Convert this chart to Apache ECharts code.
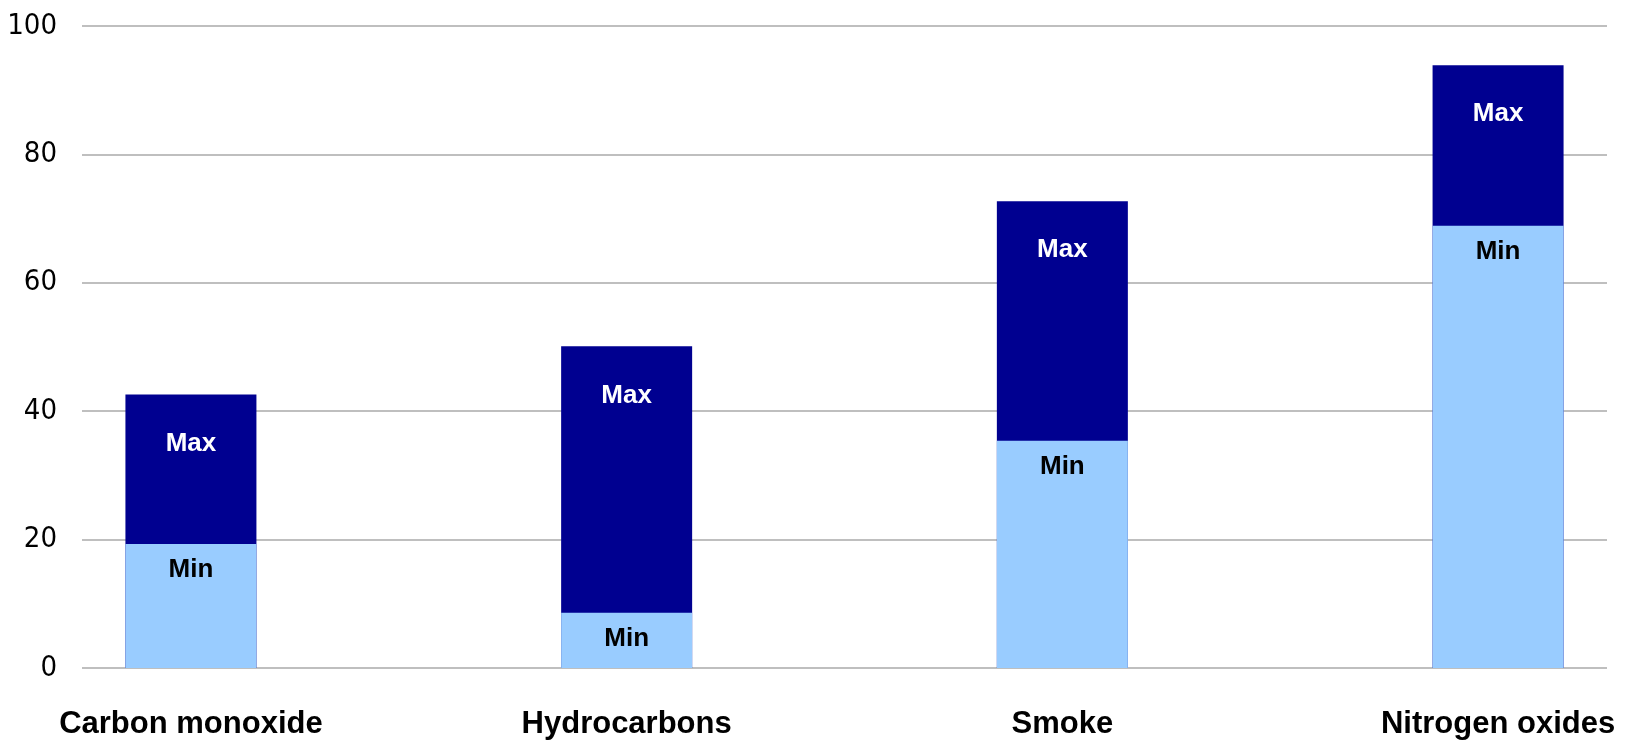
<!DOCTYPE html>
<html>
<head>
<meta charset="utf-8">
<script src="https://cdn.jsdelivr.net/npm/echarts@6/dist/echarts.min.js"></script>
<style>
html,body{margin:0;padding:0;background:#fff;}
#chart{width:1627px;height:742px;}
</style>
</head>
<body>
<div id="chart"></div>
<script>
const categories = ['Carbon monoxide', 'Hydrocarbons', 'Smoke', 'Nitrogen oxides'];
const minValues = [19.3, 8.6, 35.4, 68.9];
const maxValues = [42.6, 50.1, 72.7, 93.9];
const yTicks = [0, 20, 40, 60, 80, 100];

const chart = echarts.init(document.getElementById('chart'));
const minData = minValues.map((v, i) => [i, v]);
const maxData = maxValues.map((v, i) => [i, v]);

chart.setOption({
  animation: false,
  backgroundColor: '#ffffff',
  grid: { left: 82, right: 20, top: 26, bottom: 74, containLabel: false },
  xAxis: {
    type: 'value',
    min: -0.25,
    max: 3.25,
    axisLine: { show: false },
    axisTick: { show: false },
    splitLine: { show: false },
    axisLabel: {
      customValues: [0, 1, 2, 3],
      formatter: v => categories[Math.round(v)] || '',
      fontFamily: 'Liberation Sans, Arial, sans-serif',
      fontWeight: 'bold',
      fontSize: 31,
      color: '#000',
      margin: 41
    }
  },
  yAxis: {
    type: 'value',
    min: yTicks[0],
    max: yTicks[yTicks.length - 1],
    interval: 20,
    axisLine: { show: false },
    axisTick: { show: false },
    splitLine: { lineStyle: { color: '#aaaaaa', width: 1.5 } },
    axisLabel: {
      fontFamily: '"Liberation Sans Narrow", "DejaVu Sans Condensed", "Arial Narrow", sans-serif',
      fontSize: 29,
      color: '#000',
      margin: 25
    }
  },
  series: [
    {
      name: 'Max',
      type: 'bar',
      barWidth: 131,
      barGap: '-100%',
      z: 2,
      data: maxData,
      itemStyle: { color: '#000090' },
      label: {
        show: true,
        position: 'insideTop',
        distance: 36,
        formatter: 'Max',
        fontFamily: 'Liberation Sans, Arial, sans-serif',
        fontWeight: 'bold',
        fontSize: 26,
        color: '#fff'
      }
    },
    {
      name: 'Min',
      type: 'bar',
      barWidth: 131,
      barGap: '-100%',
      z: 3,
      data: minData,
      itemStyle: { color: '#99ccff' },
      label: {
        show: true,
        position: 'insideTop',
        distance: 13,
        formatter: 'Min',
        fontFamily: 'Liberation Sans, Arial, sans-serif',
        fontWeight: 'bold',
        fontSize: 26,
        color: '#000'
      }
    }
  ]
});
</script>
</body>
</html>
